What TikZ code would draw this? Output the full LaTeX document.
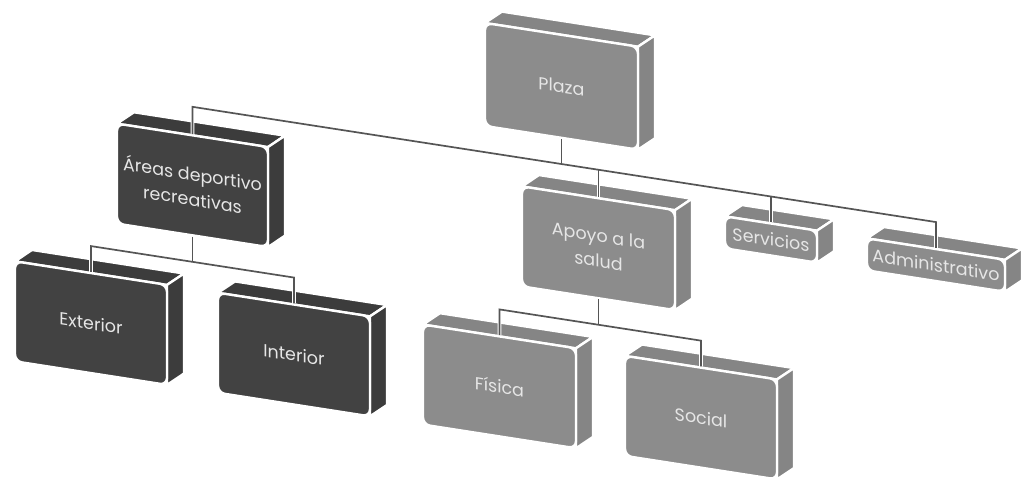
\documentclass[tikz,border=0pt]{standalone}
\usepackage{fontspec}
\setmainfont{Poppins}
\usetikzlibrary{calc}
\definecolor{lightbox}{HTML}{8C8C8C}
\definecolor{lightside}{HTML}{858585}
\definecolor{darkbox}{HTML}{424242}
\definecolor{darkside}{HTML}{3C3C3C}
\definecolor{boxtext}{HTML}{E6E6E6}
\definecolor{linkcol}{HTML}{555555}
% #1 cx, #2 cy, #3 w, #4 h, #5 colour of depth faces
\newcommand\depthfaces[5]{%
  \filldraw[fill=#5, facebd]
    ({#1-#3/2},{#2-#4/2}) -- ++(17,-14) -- ({#1+#3/2+17},{#2-#4/2-14}) -- ({#1+#3/2},{#2-#4/2}) -- cycle;
  \filldraw[fill=#5, facebd]
    ({#1+#3/2},{#2-#4/2}) -- ++(17,-14) -- ({#1+#3/2+17},{#2+#4/2-14}) -- ({#1+#3/2},{#2+#4/2}) -- cycle;
}
\begin{document}
\begin{tikzpicture}[x=1pt,y=-1pt,
  facebd/.style={draw=white, line width=2.4pt, line join=round},
  front/.style={rectangle, rounded corners=7pt, draw=white, line width=2.4pt,
    inner sep=0pt, transform shape, text=boxtext, align=center,
    font=\fontsize{17.5}{25}\selectfont},
  lightfront/.style={front, fill=lightbox},
  darkfront/.style={front, fill=darkbox},
  linkunder/.style={draw=white, line width=3.6pt},
  linkover/.style={draw=linkcol, line width=1.7pt},
]
\useasboundingbox (0,0) rectangle (1029,481);
\begin{scope}[yslant=-0.155]
  % depth faces
  \depthfaces{561.5}{-0.7}{153}{103}{lightside}
  \depthfaces{192.5}{155.5}{151}{100}{darkside}
  \depthfaces{598.5}{155.5}{153}{100}{lightside}
  \depthfaces{771}{120}{92}{32}{lightside}
  \depthfaces{936}{120}{138}{32}{lightside}
  \depthfaces{91}{309}{152}{100}{darkside}
  \depthfaces{294}{309}{152}{100}{darkside}
  \depthfaces{499.5}{309}{153}{100}{lightside}
  \depthfaces{701}{309}{152}{100}{lightside}
  % front faces
  \node[lightfront, minimum width=153pt, minimum height=103pt] (plaza) at (561.5,-0.7) {Plaza};
  \node[darkfront, minimum width=151pt, minimum height=100pt] (areas) at (192.5,155.5) {Áreas deportivo\\recreativas};
  \node[lightfront, minimum width=153pt, minimum height=100pt] (apoyo) at (598.5,155.5) {Apoyo a la\\salud};
  \node[lightfront, minimum width=92pt, minimum height=32pt] (serv) at (771,120) {Servicios};
  \node[lightfront, minimum width=138pt, minimum height=32pt] (admin) at (936,120) {Administrativo};
  \node[darkfront, minimum width=152pt, minimum height=100pt] (ext) at (91,309) {Exterior};
  \node[darkfront, minimum width=152pt, minimum height=100pt] (int) at (294,309) {Interior};
  \node[lightfront, minimum width=153pt, minimum height=100pt] (fis) at (499.5,309) {Física};
  \node[lightfront, minimum width=152pt, minimum height=100pt] (soc) at (701,309) {Social};
  % bar coordinates
  \coordinate (b1a) at (192.5,77);
  \coordinate (b1p) at (561.5,77);
  \coordinate (b1b) at (598.5,77);
  \coordinate (b1c) at (771,77);
  \coordinate (b1d) at (936,77);
  \coordinate (b2a) at (91,232);
  \coordinate (b2p) at (192.5,232);
  \coordinate (b2b) at (294,232);
  \coordinate (b3a) at (499.5,232);
  \coordinate (b3p) at (598.5,232);
  \coordinate (b3b) at (701,232);
  \foreach \st in {linkunder,linkover}{
    \draw[\st] (areas.north) -- (b1a) -- (b1d) -- (admin.north);
    \draw[\st] (plaza.south) -- (b1p);
    \draw[\st] (b1b) -- (apoyo.north);
    \draw[\st] (b1c) -- (serv.north);
    \draw[\st] (ext.north) -- (b2a) -- (b2b) -- (int.north);
    \draw[\st] (areas.south) -- (b2p);
    \draw[\st] (fis.north) -- (b3a) -- (b3b) -- (soc.north);
    \draw[\st] (apoyo.south) -- (b3p);
  }
\end{scope}
\end{tikzpicture}
\end{document}
